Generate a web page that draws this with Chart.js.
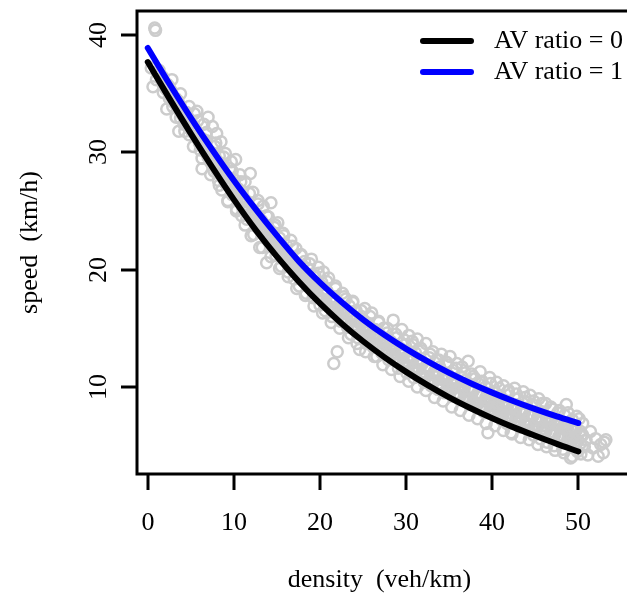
<!DOCTYPE html>
<html>
<head>
<meta charset="utf-8">
<script src="https://cdn.jsdelivr.net/npm/chart.js@4.4.1/dist/chart.umd.min.js"></script>
<style>
  html, body { margin: 0; padding: 0; background: #fff; overflow: hidden; }
  #wrap { width: 630px; height: 596px; }
</style>
</head>
<body>
<div id="wrap"><canvas id="fdChart" width="630" height="596"></canvas></div>
<script>
// Observed points (grey cloud) - scattered ones
const cloudDensity = [
  0.8,0.9,0.6,1.0,1.3,0.4,1.8,2.2,2.5,2.9,3.1,3.6,3.8,4.2,4.4,4.8,5.1,5.4,5.7,5.9,
  6.1,6.3,6.5,6.8,7.0,7.2,7.3,7.5,7.7,7.9,8.0,8.2,8.3,8.5,8.6,8.8,9.0,9.1,9.3,9.5,
  9.7,9.8,10.0,10.2,10.3,10.5,10.7,10.9,11.1,11.3,11.5,11.7,11.9,12.0,12.2,12.4,12.6,12.8,13.0,13.2,
  13.4,13.6,13.8,14.0,14.3,14.5,14.7,14.9,15.1,15.3,15.5,15.7,15.9,16.1,16.3,16.6,16.8,17.0,17.2,17.4,
  17.6,17.8,18.0,18.2,18.4,18.6,18.8,19.0,19.2,19.4,19.6,19.8,20.0,20.2,20.4,20.6,20.8,21.0,21.2,21.4,
  21.6,22.0,21.8,22.2,22.4,22.6,22.8,23.0,23.2,23.4,23.6,23.8,24.0,24.2,24.4,24.6,24.8,25.0,25.2,25.4,
  25.6,25.8,26.0,26.2,26.4,26.6,26.8,27.0,27.2,27.4,27.6,27.8,28.0,28.2,28.5,28.7,28.9,29.1,29.3,29.5,
  29.7,29.9,30.1,30.3,30.5,30.7,30.9,31.1,31.3,31.5,31.7,31.9,32.1,32.3,32.5,32.7,32.9,33.1,33.3,33.5,
  33.7,33.9,34.1,34.3,34.5,34.7,34.9,35.1,35.3,35.5,35.7,35.9,36.1,36.3,36.5,36.7,36.9,37.2,37.4,37.6,
  37.8,38.0,38.2,38.4,38.6,38.8,39.0,39.2,39.5,39.7,39.9,40.1,40.3,40.5,40.7,40.9,41.1,41.3,41.5,41.7,
  41.9,42.2,42.4,42.6,42.8,43.0,43.2,43.4,43.6,43.8,44.0,44.2,44.4,44.6,44.8,45.0,45.2,45.4,45.6,45.8,
  46.0,46.2,46.4,46.6,46.8,47.0,47.2,47.4,47.6,47.8,48.0,48.2,48.4,48.6,48.8,49.1,49.3,49.5,49.7,49.9,
  50.1,50.3,50.5,50.7,50.9,51.1,51.4,51.7,52.0,52.3,52.6,52.9,53.2,53.0
];
const cloudSpeed = [
  40.6,40.4,35.6,36.2,37.0,37.2,35.1,33.7,34.6,33.9,34.2,31.8,32.9,32.4,33.1,31.5,32.0,33.3,33.5,31.2,
  30.2,28.6,32.4,31.0,33.0,30.1,29.2,32.2,28.4,30.8,31.6,27.6,29.7,30.9,26.8,28.9,29.9,27.3,25.8,28.6,
  29.2,26.4,27.7,29.4,25.2,26.9,28.1,24.6,26.0,27.5,24.3,25.3,28.2,22.9,26.6,24.8,23.7,25.9,21.9,24.2,
  25.4,23.0,20.6,24.5,25.7,22.2,23.6,21.2,24.0,22.7,20.3,23.1,21.6,22.1,19.8,22.5,20.9,19.2,21.8,20.1,
  18.6,21.3,19.6,20.7,18.0,20.1,19.0,20.9,17.6,19.5,18.4,20.2,17.0,18.9,19.8,16.5,18.2,19.3,17.4,16.0,
  12.0,13.0,18.6,17.0,15.6,18.0,16.4,17.5,15.1,16.9,14.5,17.3,15.7,16.5,14.2,13.2,16.0,14.8,16.7,13.7,
  15.3,14.1,16.3,13.4,14.9,12.6,15.6,14.4,12.9,15.0,13.6,14.6,12.3,13.9,15.7,12.8,14.2,11.6,13.3,14.9,
  12.2,13.6,11.2,14.4,12.6,13.9,10.8,12.9,14.1,11.5,13.3,12.0,10.4,13.7,11.8,12.5,10.1,13.0,11.2,12.3,
  9.8,11.7,12.8,10.6,9.5,12.1,11.0,12.6,9.9,11.4,10.2,12.0,9.1,10.9,11.7,9.6,10.6,12.2,8.8,11.1,
  9.9,10.7,8.4,10.3,11.3,9.2,7.9,10.0,6.1,10.8,8.7,9.6,7.6,10.4,8.2,9.3,7.2,10.1,8.8,6.9,
  9.7,6.1,8.5,9.9,7.5,9.0,6.6,8.1,9.6,7.0,8.7,6.3,9.3,7.7,5.9,8.4,7.1,9.0,5.6,7.9,
  6.7,8.6,5.3,7.4,6.2,8.1,5.0,6.9,7.8,5.7,6.5,4.7,7.6,8.5,6.0,3.95,7.2,5.3,6.6,4.5,
  7.3,5.8,6.9,4.9,5.5,4.2,6.2,4.8,5.6,4.1,5.1,4.4,5.5,5.3
];

// Dense core of the cloud, between the two curves
const coreDensity = [
  1.5,2.0,2.5,3.0,3.5,4.0,4.5,5.0,5.5,6.0,6.5,7.0,7.5,8.0,8.5,9.0,9.5,10.0,10.5,11.0,
  11.5,12.0,12.5,13.0,13.5,14.0,14.5,15.0,15.5,16.0,16.5,17.0,17.5,18.0,18.5,19.0,19.5,20.0,20.5,21.0,
  21.5,22.0,22.5,23.0,23.5,24.0,24.5,25.0,25.5,26.0,26.5,27.0,27.5,28.0,28.5,29.0,29.5,30.0,30.5,31.0,
  31.5,32.0,32.5,33.0,33.5,34.0,34.5,35.0,35.5,36.0,36.5,37.0,37.5,38.0,38.5,39.0,39.5,40.0,40.5,41.0,
  41.5,42.0,42.5,43.0,43.5,44.0,44.5,45.0,45.5,46.0,46.5,47.0,47.5,48.0,48.5,49.0,49.5,50.0,50.5
];
const coreSpeed = [
  36.6,35.5,35.6,34.3,34.4,33.2,33.4,31.9,32.1,30.8,31.0,29.6,29.9,28.5,28.9,27.4,27.8,26.4,26.8,25.3,
  25.8,24.4,24.8,23.4,23.9,22.5,22.9,21.6,22.0,20.8,21.2,19.9,20.3,19.1,19.6,18.4,18.8,17.6,18.1,16.9,
  17.4,16.2,16.7,15.6,16.1,15.0,15.5,14.4,14.9,13.9,14.4,13.4,13.9,12.9,13.4,12.4,12.9,11.9,12.4,11.5,
  12.0,11.0,11.5,10.6,11.1,10.2,10.7,9.8,10.3,9.4,10.0,9.1,9.6,8.7,9.3,8.4,8.9,8.1,8.6,7.8,
  8.3,7.5,8.0,7.2,7.7,6.9,7.5,6.6,7.2,6.4,6.9,6.1,6.7,5.9,6.4,5.6,6.2,5.4,5.9
];

// Points hugging the inner side of each curve
const innerDensity = [
  1.75,2.25,2.75,3.25,3.75,4.25,4.75,5.25,5.75,6.25,6.75,7.25,7.75,8.25,8.75,9.25,9.75,10.25,10.75,11.25,
  11.75,12.25,12.75,13.25,13.75,14.25,14.75,15.25,15.75,16.25,16.75,17.25,17.75,18.25,18.75,19.25,19.75,20.25,20.75,21.25,
  21.75,22.25,22.75,23.25,23.75,24.25,24.75,25.25,25.75,26.25,26.75,27.25,27.75,28.25,28.75,29.25,29.75,30.25,30.75,31.25,
  31.75,32.25,32.75,33.25,33.75,34.25,34.75,35.25,35.75,36.25,36.75,37.25,37.75,38.25,38.75,39.25,39.75,40.25,40.75,41.25,
  41.75,42.25,42.75,43.25,43.75,44.25,44.75,45.25,45.75,46.25,46.75,47.25,47.75,48.25,48.75,49.25,49.75,50.25
];
const innerLowSpeed = [
  35.9,35.3,34.7,34.1,33.5,32.9,32.3,31.7,31.2,30.6,30.0,29.4,28.9,28.4,27.8,27.3,26.7,26.2,25.7,25.2,
  24.7,24.2,23.7,23.3,22.8,22.3,21.9,21.4,21.0,20.6,20.2,19.8,19.4,19.0,18.6,18.2,17.8,17.5,17.1,16.8,
  16.5,16.1,15.8,15.5,15.2,14.9,14.6,14.3,14.0,13.8,13.5,13.2,13.0,12.7,12.5,12.2,12.0,11.8,11.5,11.3,
  11.1,10.9,10.7,10.5,10.3,10.0,9.8,9.7,9.5,9.3,9.1,8.9,8.8,8.6,8.4,8.2,8.1,7.9,7.8,7.6,
  7.5,7.3,7.2,7.0,6.9,6.7,6.6,6.5,6.3,6.2,6.1,5.9,5.8,5.7,5.5,5.4,5.3,5.2
];
const innerHighSpeed = [
  36.4,35.8,35.2,34.6,34.0,33.4,32.8,32.3,31.7,31.2,30.6,30.0,29.5,29.0,28.4,27.9,27.4,26.9,26.4,25.9,
  25.4,24.9,24.4,24.0,23.5,23.1,22.6,22.2,21.7,21.3,20.9,20.4,20.0,19.7,19.3,18.9,18.6,18.2,17.9,17.5,
  17.2,16.9,16.6,16.3,16.0,15.7,15.4,15.1,14.8,14.5,14.3,14.0,13.7,13.5,13.3,13.0,12.8,12.6,12.3,12.1,
  11.9,11.7,11.5,11.3,11.1,10.9,10.7,10.5,10.3,10.1,9.9,9.8,9.6,9.4,9.3,9.1,8.9,8.8,8.6,8.5,
  8.3,8.2,8.1,7.9,7.8,7.6,7.5,7.4,7.2,7.1,7.0,6.9,6.7,6.6,6.5,6.4,6.3,6.2
];

// Lower and upper fringe of the cloud
const lowDensity = [
  3.3,4.3,5.3,6.3,7.3,8.3,9.3,10.3,11.3,12.3,13.3,14.3,15.3,16.3,17.3,18.3,19.3,20.3,21.3,22.3,
  23.3,24.3,25.3,26.3,27.3,28.3,29.3,30.3,31.3,32.3,33.3,34.3,35.3,36.3,37.3,38.3,39.3,40.3,41.3,42.3,
  43.3,44.3,45.3,46.3,47.3,48.3,49.3,50.3
];
const lowSpeed = [
  33.0,31.8,30.5,29.5,28.1,27.2,25.9,25.0,23.8,23.0,21.9,21.1,20.1,19.4,18.4,17.8,16.9,16.3,15.5,15.0,
  14.2,13.7,13.0,12.6,11.9,11.5,10.9,10.5,10.0,9.7,9.1,8.8,8.3,8.0,7.6,7.3,6.9,6.7,6.3,6.0,
  5.7,5.5,5.1,4.9,4.6,4.4,4.1,4.3
];
const highDensity = [
  2.8,3.8,4.8,5.8,6.8,7.8,8.8,9.8,10.8,11.8,12.8,13.8,14.8,15.8,16.8,17.8,18.8,19.8,20.8,21.8,
  22.8,23.8,24.8,25.8,26.8,27.8,28.8,29.8,30.8,31.8,32.8,33.8,34.8,35.8,36.8,37.8,38.8,39.8,40.8,41.8,
  42.8,43.8,44.8,45.8,46.8,47.8,48.8,49.8
];
const highSpeed = [
  36.2,35.0,33.9,32.7,31.7,30.5,29.6,28.4,27.5,26.5,25.6,24.6,23.8,22.9,22.0,21.2,20.5,19.7,19.0,18.4,
  17.7,17.2,16.5,16.0,15.5,15.0,14.5,14.0,13.6,13.1,12.8,12.3,11.9,11.6,11.2,10.9,10.5,10.3,9.9,9.6,
  9.4,9.1,8.8,8.6,8.3,8.0,7.8,7.5
];

// Fitted curves
const curveDensity = [0,2.5,5,7.5,10,12.5,15,17.5,20,22.5,25,27.5,30,32.5,35,37.5,40,42.5,45,47.5,50];
const speedAV0 = [37.7,34.6,31.6,28.72,25.97,23.42,21.12,19.02,17.12,15.42,13.9,12.53,11.29,10.16,9.12,8.19,7.34,6.56,5.84,5.15,4.5];
const speedAV1 = [38.9,35.85,32.95,30.2,27.6,25.18,22.9,20.75,18.9,17.25,15.75,14.43,13.25,12.18,11.2,10.32,9.52,8.79,8.12,7.5,6.93];

const xTicks = [0, 10, 20, 30, 40, 50];
const yTicks = [10, 20, 30, 40];
const seriesNames = ['AV ratio = 0', 'AV ratio = 1'];
const seriesColors = ['#000000', '#0000ff'];

const FONT = '26px "Liberation Serif", "Times New Roman", serif';

const toXY = (xs, ys) => xs.map((v, i) => ({ x: v, y: ys[i] }));
const cloudPoints = [].concat(
    toXY(cloudDensity, cloudSpeed),
    toXY(coreDensity, coreSpeed),
    toXY(innerDensity, innerLowSpeed),
    toXY(innerDensity, innerHighSpeed),
    toXY(lowDensity, lowSpeed),
    toXY(highDensity, highSpeed)
);

// R-style axes, box and legend
const rStyle = {
    id: 'rStyle',
    afterDraw(chart) {
        const { ctx, chartArea: a, scales: { x, y } } = chart;
        ctx.save();
        ctx.strokeStyle = '#000';
        ctx.fillStyle = '#000';
        ctx.lineWidth = 3;
        ctx.lineCap = 'butt';

        // box (right side falls outside the window)
        ctx.beginPath();
        ctx.moveTo(a.right + 5, a.top);
        ctx.lineTo(a.left, a.top);
        ctx.lineTo(a.left, a.bottom);
        ctx.lineTo(a.right + 5, a.bottom);
        ctx.stroke();

        ctx.font = FONT;
        // x axis
        ctx.textAlign = 'center';
        ctx.textBaseline = 'middle';
        xTicks.forEach(v => {
            const px = Math.round(x.getPixelForValue(v));
            ctx.beginPath();
            ctx.moveTo(px, a.bottom);
            ctx.lineTo(px, a.bottom + 16);
            ctx.stroke();
            ctx.fillText(String(v), px, 523);
        });
        ctx.fillText('density  (veh/km)', (a.left + a.right) / 2, 580);

        // y axis
        yTicks.forEach(v => {
            const py = Math.round(y.getPixelForValue(v));
            ctx.beginPath();
            ctx.moveTo(a.left, py);
            ctx.lineTo(a.left - 16, py);
            ctx.stroke();
            ctx.save();
            ctx.translate(99, py);
            ctx.rotate(-Math.PI / 2);
            ctx.fillText(String(v), 0, 0);
            ctx.restore();
        });
        ctx.save();
        ctx.translate(30, (a.top + a.bottom) / 2);
        ctx.rotate(-Math.PI / 2);
        ctx.fillText('speed  (km/h)', 0, 0);
        ctx.restore();

        // legend
        ctx.lineWidth = 6;
        ctx.lineCap = 'round';
        ctx.textAlign = 'left';
        seriesNames.forEach((name, i) => {
            const ly = 41 + i * 31;
            ctx.strokeStyle = seriesColors[i];
            ctx.beginPath();
            ctx.moveTo(423, ly);
            ctx.lineTo(471, ly);
            ctx.stroke();
            ctx.fillText(name, 494, ly);
        });
        ctx.restore();
    }
};

const fdChart = new Chart(document.getElementById('fdChart'), {
    type: 'scatter',
    data: {
        datasets: [
            {
                label: seriesNames[1],
                type: 'line',
                data: toXY(curveDensity, speedAV1),
                borderColor: seriesColors[1],
                borderWidth: 6,
                borderCapStyle: 'round',
                cubicInterpolationMode: 'monotone',
                pointRadius: 0,
                fill: false,
                order: 1
            },
            {
                label: seriesNames[0],
                type: 'line',
                data: toXY(curveDensity, speedAV0),
                borderColor: seriesColors[0],
                borderWidth: 6,
                borderCapStyle: 'round',
                cubicInterpolationMode: 'monotone',
                pointRadius: 0,
                fill: false,
                order: 2
            },
            {
                label: 'observed',
                data: cloudPoints,
                pointRadius: 5.5,
                pointBorderWidth: 2.5,
                pointBorderColor: '#cccccc',
                pointBackgroundColor: 'rgba(0,0,0,0)',
                order: 3
            }
        ]
    },
    options: {
        responsive: false,
        animation: false,
        devicePixelRatio: 1,
        layout: { padding: { left: 137, top: 11, right: 0, bottom: 122 } },
        plugins: {
            legend: { display: false },
            tooltip: { enabled: false }
        },
        scales: {
            x: { type: 'linear', min: -1.254, max: 55.07, display: false },
            y: { type: 'linear', min: 2.585, max: 42.05, display: false }
        }
    },
    plugins: [rStyle]
});
</script>
</body>
</html>
